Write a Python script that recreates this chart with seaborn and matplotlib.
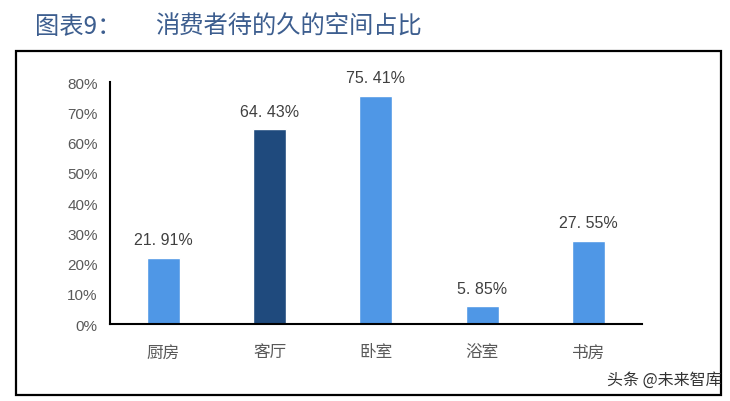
import matplotlib
matplotlib.use("Agg")
import matplotlib.pyplot as plt
from matplotlib.patches import Rectangle
from matplotlib.ticker import PercentFormatter, FixedLocator
import seaborn as sns
import pandas as pd

rooms = ["厨房", "客厅", "卧室", "浴室", "书房"]
shares = [21.91, 64.43, 75.41, 5.85, 27.55]
bar_colors = ["#4F97E6", "#1F4A7D", "#4F97E6", "#4F97E6", "#4F97E6"]

sns.set_style("white")
plt.rcParams['font.family'] = ['Noto Sans CJK SC', 'DejaVu Sans']
num_font = ['Liberation Sans', 'DejaVu Sans']

df = pd.DataFrame({"room": rooms, "share": [v / 100 for v in shares]})

fig = plt.figure(figsize=(7.3, 4.02), dpi=100)
ax = fig.add_axes([0.151, 0.1915, 0.728, 0.602])

sns.barplot(data=df, x="room", y="share", hue="room", palette=bar_colors,
            width=0.31, legend=False, saturation=1, ax=ax)

ax.set_ylim(0, 0.8)
ax.set_xlim(-0.5, 4.5)
ax.yaxis.set_major_formatter(PercentFormatter(1.0, decimals=0))
ax.set_yticks([i / 10 for i in range(9)])
ax.xaxis.set_major_locator(FixedLocator([-0.5, 0.5, 1.5, 2.5, 3.5, 4.5]))
ax.xaxis.set_minor_locator(FixedLocator(range(len(rooms))))
ax.set_xticklabels([], minor=False)
ax.set_xticklabels(rooms, minor=True)
ax.tick_params(axis="x", which="major", length=5, width=1.2, direction="out", color="black")
ax.tick_params(axis="x", which="minor", length=0, pad=14, labelsize=12, labelcolor="#595959")
ax.tick_params(axis="y", length=5, width=1.2, direction="out", color="black",
               labelsize=11, labelcolor="#595959", pad=4)
for lab in ax.get_yticklabels():
    lab.set_family(num_font)
ax.set_xlabel("")
ax.set_ylabel("")
for side in ["top", "right"]:
    ax.spines[side].set_visible(False)
for side in ["left", "bottom"]:
    ax.spines[side].set_color("black")
    ax.spines[side].set_linewidth(1.5)

for i, v in enumerate(shares):
    ax.text(i, v / 100 + 0.035, f"{v:.2f}%".replace(".", ". "), ha="center", va="bottom",
            fontsize=11.5, color="#404040", family=num_font)

# outer frame
fig.patches.append(Rectangle((16 / 730, 1 - 396 / 402), 705 / 730, 344 / 402,
                             transform=fig.transFigure, fill=False,
                             edgecolor="black", linewidth=1.6))

fig.text(35 / 730, 1 - 27 / 402, "图表9：", fontsize=17.5, color="#3D5E8F", va="center")
fig.text(155 / 730, 1 - 27 / 402, "消费者待的久的空间占比", fontsize=17.5, color="#3D5E8F",
         va="center")
fig.text(722 / 730, 1 - 380 / 402, "头条 @未来智库", fontsize=11.5, color="#333333",
         ha="right", va="center")

fig.savefig("out.png", dpi=100)
